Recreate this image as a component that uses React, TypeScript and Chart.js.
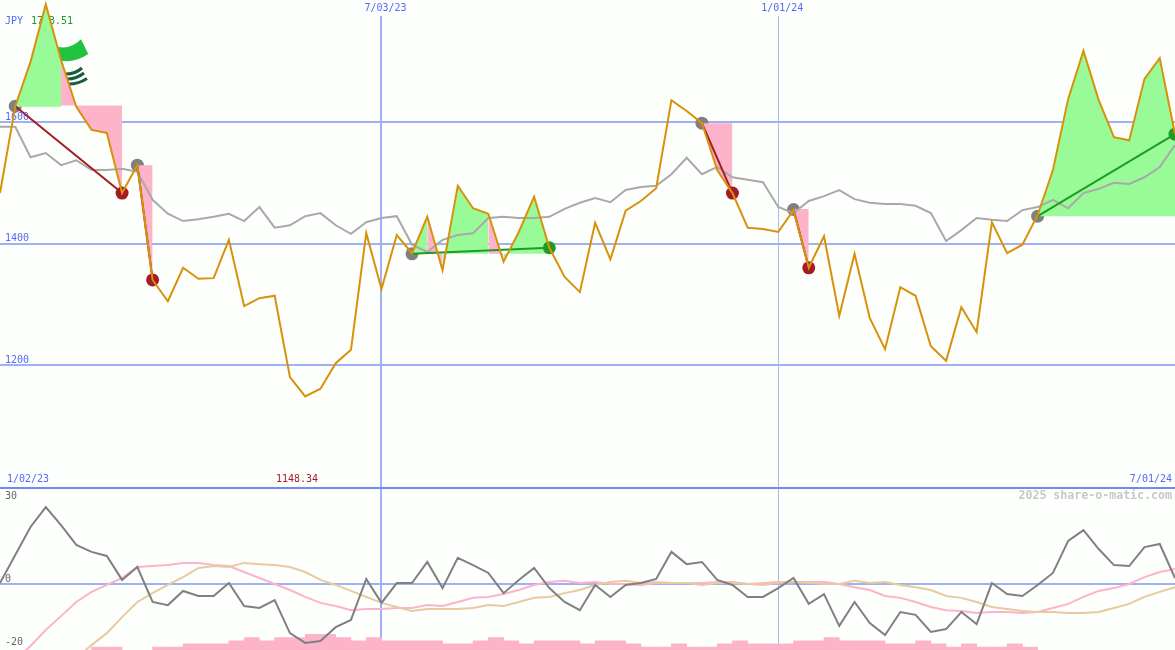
import React, { useEffect, useRef } from "react";
import { Chart, registerables } from "chart.js";

Chart.register(...registerables);

const priceSeries = [
  1483, 1626, 1699, 1793.51, 1702, 1625, 1587, 1582, 1483, 1529, 1340, 1305, 1360, 1342, 1343, 1406, 1297, 1310, 1314, 1180,
  1148.34, 1161, 1203, 1225, 1417, 1325, 1414, 1384, 1444, 1356, 1495, 1458, 1449, 1370, 1419, 1477, 1393, 1345, 1320, 1434,
  1374, 1454, 1470, 1491, 1636, 1618, 1598, 1521, 1483, 1426, 1424, 1419, 1455, 1360, 1412, 1281, 1383, 1277, 1226, 1328,
  1314, 1231, 1207, 1295, 1254, 1435, 1384, 1398, 1447, 1521, 1638, 1717, 1636, 1575, 1570, 1671, 1705, 1580,
];
const averageSeries = [
  1592, 1592, 1542, 1549, 1529, 1537, 1521, 1521, 1523, 1518, 1472, 1449, 1437, 1440, 1444, 1449, 1437, 1460, 1426, 1430,
  1445, 1450, 1430, 1416, 1435, 1442, 1445, 1398, 1386, 1406, 1414, 1417, 1442, 1444, 1442, 1442, 1444, 1457, 1467, 1475,
  1468, 1488, 1493, 1495, 1514, 1541, 1514, 1526, 1509, 1505, 1501, 1460, 1450, 1470, 1478, 1488, 1473, 1467, 1465, 1465,
  1462, 1450, 1404, 1422, 1442, 1439, 1437, 1455, 1460, 1472, 1458, 1483, 1490, 1500, 1498, 1509, 1526, 1562,
];
const momentumSeries = [
  0.3, 9.2, 18.1, 24.4, 18.7, 12.4, 10.2, 8.9, 1.3, 5.4, -5.7, -6.7, -2.2, -3.8, -3.8, 0.3, -7, -7.6, -5.1, -15.6,
  -18.7, -18.1, -13.7, -11.4, 1.6, -6, 0.3, 0.3, 7, -1.3, 8.3, 6, 3.5, -2.9, 1.3, 5.1, -1.3, -5.7, -8.3, -0.3,
  -4.1, -0.3, 0.3, 1.6, 10.2, 6.3, 7, 1.3, -0.3, -4.1, -4.1, -1.3, 1.9, -6.3, -3.2, -13.3, -5.7, -12.4, -16.2, -8.9,
  -9.8, -15.2, -14.3, -8.9, -12.7, 0.3, -3.2, -3.8, -0.3, 3.5, 13.7, 17.1, 11.1, 6, 5.7, 11.7, 12.7, 1.9,
];
const pinkSeries = [
  null, -24.1, -19.7, -14.6, -10.2, -5.7, -2.5, -0.3, 1.9, 5.4, 5.7, 6, 6.7, 6.7, 6, 5.7, 3.8, 1.9, 0, -1.9,
  -4.1, -6, -7, -8.3, -7.9, -7.9, -7.6, -7.6, -6.7, -7, -5.7, -4.4, -4.1, -3.2, -1.9, -0.3, 0.6, 1, 0.3, 0.6,
  0, 0, -0.3, 0.3, 0.3, 0.3, 0.3, 0.6, 0.6, 0, -0.3, 0.3, 0.6, 0.6, 0.6, 0, -1, -1.9, -3.8, -4.4,
  -5.7, -7.3, -8.3, -8.6, -9.2, -8.9, -8.9, -9.2, -8.9, -7.6, -6.3, -4.1, -2.2, -1.3, 0, 2.2, 3.8, 4.8,
];
const tanSeries = [
  null, null, null, null, null, -23.5, -19.4, -15.6, -10.5, -5.7, -2.9, -0.3, 2.2, 5.1, 5.7, 5.4, 6.7, 6.3, 6, 5.4,
  3.8, 1.3, -0.3, -2.2, -4.1, -6, -7.3, -8.6, -7.9, -7.9, -7.9, -7.6, -6.7, -7, -5.7, -4.4, -4.1, -2.9, -1.9, -0.3,
  0.6, 1, 0.3, 0.6, 0.3, 0.3, -0.3, 0.3, 0.3, 0, 0.3, 0.6, 0.6, 0.3, 0, 0, 1, 0.3, 0.6, -0.3,
  -1, -1.9, -3.8, -4.4, -5.7, -7.3, -7.9, -8.6, -8.9, -8.9, -9.2, -9.2, -8.9, -7.6, -6.3, -4.1, -2.5, -1,
];
const histogramSeries = [
  null, null, null, null, null, null, -20, -20, null, null, -20, -20, -19, -19, -19, -18, -17, -18, -17, -17,
  -16, -16, -17, -18, -17, -18, -18, -18, -18, -19, -19, -18, -17, -18, -19, -18, -18, -18, -19, -18,
  -18, -19, -20, -20, -19, -20, -20, -19, -18, -19, -19, -19, -18, -18, -17, -18, -18, -18, -19, -19,
  -18, -19, -20, -19, -20, -20, -19, -20, null, null, null, null, null, null, null, null, null, null,
];

// [first index, last index, base price, colour name]
const shadeSpans: [number, number, number, string][] = [
  [1, 4, 1625, "win"], [4, 8, 1627, "loss"], [9, 10, 1529, "loss"],
  [27, 28, 1383, "win"], [28, 29, 1383, "loss"], [29, 32, 1383, "win"], [32, 33, 1383, "loss"], [33, 36, 1383, "win"],
  [46, 48, 1598, "loss"], [52, 53, 1457, "loss"], [68, 77, 1445, "win"],
];
// [start index, end index, start price, end price, colour name]
const trades: [number, number, number, number, string][] = [
  [1, 8, 1626, 1483, "loss"], [9, 10, 1529, 1340, "loss"], [27, 36, 1383, 1393, "win"],
  [46, 48, 1598, 1483, "loss"], [52, 53, 1456, 1360, "loss"], [68, 77, 1445, 1580, "win"],
];

const priceTicks = [1200, 1400, 1600];
const lowerTicks = [-20, 0];
const xTickIndex = [25, 51];
const xTickText = ["7/03/23", "1/01/24"];

const BLUE = "#5468f4";
const GRID = "#a0b0f5";
const PAGE = "#fdfffd";
const FONT = "'DejaVu Sans Mono', monospace";
const shadeColor: Record<string, string> = { win: "#98fb98", loss: "#fdb3ca" };
const tradeColor: Record<string, string> = { win: "#1f9a26", loss: "#a31c24" };

const textLabels: [string, number, number, string, CanvasTextAlign][] = [
  ["JPY", 5, 21.5, BLUE, "left"],
  ["1793.51", 31, 21.5, "#1f9a26", "left"],
  ["1/02/23", 7, 479.5, BLUE, "left"],
  ["1148.34", 276, 479.5, "#a31c24", "left"],
  ["7/01/24", 1172, 479.5, BLUE, "right"],
  ["30", 5, 496, "#666666", "left"],
];

const backdrop = {
  id: "backdrop",
  beforeDatasetsDraw(chart: any) {
    const c = chart.ctx;
    c.save();
    // the date rows at the top sit above the vertical rules
    c.fillStyle = PAGE;
    c.fillRect(0, 0, chart.width, 16);
    c.fillStyle = "#20c23e";
    c.beginPath();
    c.moveTo(57.7, 46.7);
    c.quadraticCurveTo(70, 50, 81, 39.3);
    c.lineTo(88.3, 54);
    c.quadraticCurveTo(75, 63, 61, 60.7);
    c.closePath();
    c.fill();
    c.strokeStyle = "#1c5c3e";
    c.lineWidth = 3;
    [[65, 74, 82, 68], [66, 79, 84, 73], [67, 84, 87, 78.5]].forEach(([a, b, d, e]) => {
      c.beginPath();
      c.moveTo(a, b);
      c.quadraticCurveTo((a + d) / 2 + 1, b + 0.5, d, e);
      c.stroke();
    });
    c.textBaseline = "middle";
    c.font = `10px ${FONT}`;
    textLabels.forEach(([t, x, y, col, align]) => {
      c.fillStyle = col;
      c.textAlign = align;
      c.fillText(t, x, y);
    });
    c.fillStyle = BLUE;
    c.textAlign = "center";
    xTickIndex.forEach((k, i) => {
      c.fillText(xTickText[i], chart.scales.x.getPixelForValue(k) + 4, 8.5);
    });
    c.font = `bold 11.6px ${FONT}`;
    c.fillStyle = "#c8c8c8";
    c.textAlign = "right";
    c.fillText("2025 share-o-matic.com", 1172, 496);
    c.restore();
  },
};

const points = (values: (number | null)[]) => values.map((y, x) => ({ x, y }));
const lineBase = { type: "line", pointRadius: 0, tension: 0, fill: false, spanGaps: false };
const noPadding = (s: any) => {
  s.paddingTop = 0;
  s.paddingBottom = 0;
  s.paddingLeft = 0;
  s.paddingRight = 0;
};

export default function App() {
  const ref = useRef<HTMLCanvasElement>(null);
  useEffect(() => {
    document.body.style.margin = "0";
    document.body.style.background = PAGE;
    const datasets: any[] = [
      { ...lineBase, data: points(priceSeries), yAxisID: "y", borderColor: "#d8920a", borderWidth: 2, order: 0 },
      ...trades.map(([a, b, pa, pb, kind]) => ({
        ...lineBase,
        data: [{ x: a, y: pa }, { x: b, y: pb }],
        yAxisID: "y",
        borderColor: tradeColor[kind],
        borderWidth: 2,
        order: 1,
      })),
      ...trades.map(([, b, , pb, kind]) => ({
        ...lineBase,
        showLine: false,
        data: [{ x: b, y: pb }],
        yAxisID: "y",
        pointRadius: 6.5,
        pointBorderWidth: 0,
        pointBackgroundColor: tradeColor[kind],
        order: 1,
      })),
      { ...lineBase, data: points(averageSeries), yAxisID: "y", borderColor: "#a9a9a9", borderWidth: 2, order: 2 },
      ...shadeSpans.map(([a, b, base, kind]) => ({
        ...lineBase,
        data: priceSeries.slice(a, b + 1).map((y, i) => ({ x: a + i, y })),
        yAxisID: "y",
        borderWidth: 0,
        borderColor: "transparent",
        backgroundColor: shadeColor[kind],
        fill: { value: base },
        order: 3,
      })),
      ...trades.map(([a, , pa]) => ({
        ...lineBase,
        showLine: false,
        data: [{ x: a, y: pa }],
        yAxisID: "y",
        pointRadius: 6.5,
        pointBorderWidth: 0,
        pointBackgroundColor: "#808080",
        order: 4,
      })),
      { ...lineBase, data: points(momentumSeries), yAxisID: "y2", borderColor: "#808080", borderWidth: 2, order: 0 },
      { ...lineBase, data: points(tanSeries), yAxisID: "y2", borderColor: "#e6cb9e", borderWidth: 2, order: 1 },
      { ...lineBase, data: points(pinkSeries), yAxisID: "y2", borderColor: "#fdb3ca", borderWidth: 2, order: 2 },
      {
        type: "bar",
        data: histogramSeries.map((y, k) => ({ x: k + 0.5, y })),
        yAxisID: "y2",
        base: -22,
        backgroundColor: "#fdb3ca",
        borderWidth: 0,
        barPercentage: 1,
        categoryPercentage: 1,
        order: 6,
      },
    ];
    const chart = new Chart(ref.current!, {
      type: "line",
      data: { datasets },
      plugins: [backdrop],
      options: {
        animation: false,
        responsive: false,
        events: [],
        layout: { padding: 0, autoPadding: false },
        plugins: { legend: { display: false }, tooltip: { enabled: false }, title: { display: false } },
        scales: {
          x: {
            type: "linear",
            position: "top",
            min: 0,
            max: 77,
            offset: false,
            afterBuildTicks: (s: any) => { s.ticks = xTickIndex.map((value) => ({ value })); },
            afterFit: (s: any) => { s.height = 0; noPadding(s); },
            border: { display: false },
            grid: {
              offset: false,
              drawTicks: false,
              color: (c: any) => (c.tick?.value === xTickIndex[0] ? GRID : "#aeb9e6"),
              lineWidth: (c: any) => (c.tick?.value === xTickIndex[0] ? 2 : 1),
            },
            ticks: { display: false, autoSkip: false, maxRotation: 0 },
          },
          y: {
            type: "linear",
            position: "left",
            stack: "panels",
            stackWeight: 487.5,
            weight: 2,
            min: 998.4,
            max: 1800.8,
            afterBuildTicks: (s: any) => { s.ticks = priceTicks.map((value) => ({ value })); },
            afterFit: (s: any) => { s.width = 0; noPadding(s); },
            border: { display: false },
            grid: { drawTicks: false, color: GRID, lineWidth: 2 },
            ticks: {
              mirror: true,
              padding: 5,
              labelOffset: -5,
              autoSkip: false,
              color: BLUE,
              font: { family: FONT, size: 10 },
              callback: (v: any) => String(v),
            },
          },
          y2: {
            type: "linear",
            position: "left",
            stack: "panels",
            stackWeight: 162.5,
            weight: 1,
            min: -20.95,
            max: 30.63,
            afterBuildTicks: (s: any) => {
              s.ticks = [...lowerTicks, s.max].map((value) => ({ value }));
            },
            afterFit: (s: any) => { s.width = 0; noPadding(s); },
            border: { display: false },
            grid: {
              drawTicks: false,
              lineWidth: 2,
              color: (c: any) =>
                c.tick?.value === 0 ? GRID : (c.tick?.value ?? 0) > 0 ? "#7288f2" : "transparent",
            },
            ticks: {
              mirror: true,
              padding: 5,
              labelOffset: -5,
              autoSkip: false,
              color: "#666666",
              font: { family: FONT, size: 10 },
              callback: (v: any) => (lowerTicks.includes(v) ? String(v) : ""),
            },
          },
        },
      } as any,
    } as any);
    return () => chart.destroy();
  }, []);
  return (
    <canvas
      ref={ref}
      width={1175}
      height={650}
      style={{ display: "block", position: "absolute", left: 0, top: 0, width: 1175, height: 650, background: PAGE }}
    />
  );
}
